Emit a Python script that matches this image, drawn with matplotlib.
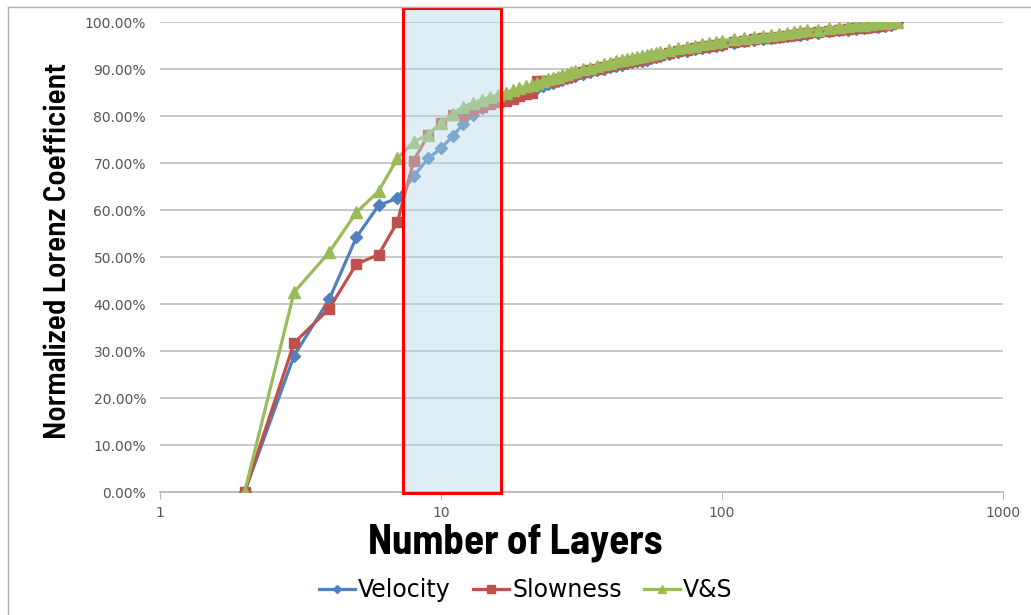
import matplotlib
matplotlib.use("Agg")
import matplotlib.pyplot as plt
import matplotlib.transforms as mtransforms
from matplotlib.patches import Rectangle
from matplotlib.lines import Line2D
from matplotlib.ticker import FuncFormatter, FixedLocator, NullLocator

# number of layers (x) - shared by all three series
layers = (list(range(2, 31)) + list(range(32, 61, 2)) + list(range(65, 101, 5))
          + list(range(110, 201, 10)) + list(range(220, 421, 20)))

# normalized Lorenz coefficient in %
velocity = [0, 29.0, 41.0, 54.2, 61.0, 62.5, 67.2, 71.0, 73.1, 75.7,
            78.3, 80.3, 81.8, 82.8, 83.5, 84.0, 84.4, 84.8, 85.2, 85.6,
            86.0, 86.4, 86.8, 87.1, 87.4, 87.7, 88.0, 88.3, 88.6,
            89.0, 89.4, 89.8, 90.1, 90.4, 90.7, 90.9, 91.2, 91.4, 91.6,
            91.8, 92.0, 92.3, 92.5, 92.7,
            93.2, 93.6, 93.9, 94.2, 94.5, 94.7, 95.0, 95.2,
            95.6, 95.9, 96.2, 96.4, 96.6, 96.8, 97.0, 97.2, 97.3, 97.5,
            97.7, 98.0, 98.2, 98.4, 98.6, 98.7, 98.9, 99.0, 99.2, 99.4, 100.0]

slowness = [0, 31.7, 39.0, 48.5, 50.5, 57.5, 70.5, 76.0, 78.5, 80.2,
            80.2, 81.2, 82.0, 82.5, 83.0, 83.3, 83.7, 84.2, 84.6, 85.0,
            87.4, 87.4, 87.4, 87.5, 87.8, 88.1, 88.4, 88.7, 88.9,
            89.3, 89.7, 90.1, 90.4, 90.7, 91.0, 91.3, 91.5, 91.8, 92.0,
            92.2, 92.4, 92.6, 92.8, 93.0,
            93.4, 93.8, 94.1, 94.4, 94.7, 94.9, 95.2, 95.4,
            95.7, 96.0, 96.3, 96.5, 96.7, 96.9, 97.1, 97.3, 97.4, 97.6,
            97.8, 98.1, 98.3, 98.5, 98.7, 98.8, 99.0, 99.1, 99.3, 99.5, 100.0]

v_and_s = [0, 42.5, 51.0, 59.5, 64.0, 71.0, 74.5, 76.0, 78.5, 80.5,
           82.0, 82.8, 83.5, 84.0, 84.5, 85.0, 85.5, 85.9, 86.3, 86.7,
           87.1, 87.5, 87.8, 88.1, 88.4, 88.7, 89.0, 89.3, 89.5,
           89.9, 90.3, 90.7, 91.0, 91.3, 91.6, 91.9, 92.1, 92.4, 92.6,
           92.8, 93.0, 93.2, 93.4, 93.6,
           94.0, 94.4, 94.7, 95.0, 95.3, 95.5, 95.8, 96.0,
           96.3, 96.6, 96.9, 97.1, 97.3, 97.5, 97.7, 97.9, 98.0, 98.2,
           98.4, 98.7, 98.9, 99.1, 99.3, 99.4, 99.6, 99.7, 99.8, 99.9, 100.0]

x_ticks = [1, 10, 100, 1000]
y_ticks = [0, 10, 20, 30, 40, 50, 60, 70, 80, 90, 100]
highlight = (7.35, 16.4)  # shaded layer range

BLUE, RED, GREEN = "#4F81BD", "#C0504D", "#9BBB59"
COND = ["Barlow Semi Condensed", "DejaVu Sans"]

fig = plt.figure(figsize=(10.31, 6.15), dpi=100)
ax = fig.add_axes([0.1552, 0.2, 0.8176, 0.7642])

ax.plot(layers, velocity, color=BLUE, lw=2.3, marker="D", ms=6, zorder=3)
ax.plot(layers, slowness, color=RED, lw=2.3, marker="s", ms=7, zorder=4)
ax.plot(layers, v_and_s, color=GREEN, lw=2.3, marker="^", ms=8, zorder=5)

ax.set_xscale("log")
ax.set_xlim(1, 1000)
ax.set_ylim(0, 100)
ax.xaxis.set_major_locator(FixedLocator(x_ticks))
ax.xaxis.set_minor_locator(NullLocator())
ax.xaxis.set_major_formatter(FuncFormatter(lambda v, p: "%d" % v))
ax.set_yticks(y_ticks)
ax.yaxis.set_major_formatter(FuncFormatter(lambda v, p: "%.2f%%" % v))

ax.grid(axis="y", color="#c4c4c4", lw=1.3)
ax.set_axisbelow(True)
for s in ["top", "right", "left"]:
    ax.spines[s].set_visible(False)
ax.spines["bottom"].set_color("#b8b8b8")
ax.spines["bottom"].set_linewidth(1.2)
ax.tick_params(axis="y", length=0, pad=10, labelsize=10, labelcolor="#555555")
ax.tick_params(axis="x", length=5, color="#b8b8b8", pad=5, labelsize=10,
               labelcolor="#555555")

# highlighted band
trans = mtransforms.blended_transform_factory(ax.transData, ax.transAxes)
ax.add_patch(Rectangle((highlight[0], -0.002), highlight[1] - highlight[0], 1.032,
                       transform=trans, facecolor="#B6DAE7", alpha=0.45,
                       edgecolor="none", zorder=6, clip_on=False))
ax.add_patch(Rectangle((highlight[0], -0.002), highlight[1] - highlight[0], 1.032,
                       transform=trans, facecolor="none", edgecolor="#FF0000",
                       lw=2.2, zorder=7, clip_on=False))

fig.text(58 / 1031, 1 - 251 / 615, "Normalized Lorenz Coefficient", rotation=90,
         ha="center", va="center", fontsize=22.5, fontweight="semibold", family=COND)
fig.text(515 / 1031, 1 - 543 / 615, "Number of Layers", ha="center", va="center",
         fontsize=29.5, fontweight="bold", family=COND)

handles = [Line2D([], [], color=BLUE, lw=2.3, marker="D", ms=4.5),
           Line2D([], [], color=RED, lw=2.3, marker="s", ms=6),
           Line2D([], [], color=GREEN, lw=2.3, marker="^", ms=6)]
fig.legend(handles, ["Velocity", "Slowness", "V&S"], loc="center",
           bbox_to_anchor=(526 / 1031, 1 - 590 / 615), ncol=3, frameon=False,
           prop={"family": "DejaVu Sans", "size": 17}, handlelength=1.5,
           handletextpad=0.15, columnspacing=0.95)

# outer chart border
fig.add_artist(Line2D([8 / 1031, 8 / 1031], [0, 1 - 7 / 615], color="#b0b0b0", lw=1))
fig.add_artist(Line2D([8 / 1031, 1], [1 - 7 / 615, 1 - 7 / 615], color="#b0b0b0", lw=1))

plt.savefig("out.png", dpi=100)
plt.close()
